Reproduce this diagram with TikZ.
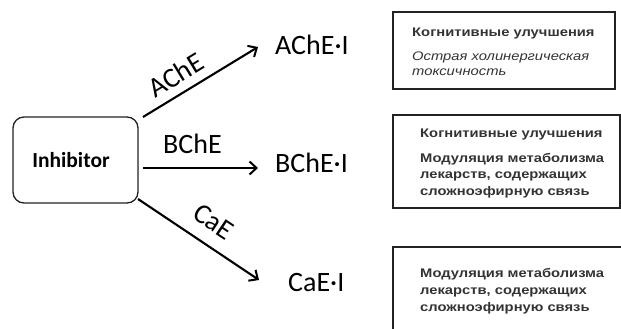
\documentclass[tikz,border=0pt]{standalone}
\usepackage{fontspec}
\setmainfont{Carlito}
\newfontfamily\arialf{Liberation Sans}
\usetikzlibrary{arrows.meta}
\definecolor{txtgray}{HTML}{333333}
\definecolor{boxline}{HTML}{222222}
\tikzset{
  arr/.style={line width=2.1pt, -{Straight Barb[length=7pt,width=13pt,line width=2pt]}},
  enz/.style={font=\fontsize{28}{32}\selectfont, inner sep=0pt},
  infobox/.style={draw=boxline, line width=1.5pt},
  infotxt/.style={font=\arialf\bfseries\fontsize{12.5}{14}\selectfont, text=txtgray, anchor=base west, inner sep=0pt, xscale=1.18},
  infoit/.style={font=\arialf\itshape\fontsize{12.5}{14}\selectfont, text=txtgray, anchor=base west, inner sep=0pt, xscale=1.18}
}
\begin{document}
\begin{tikzpicture}[x=1pt,y=-1pt]
\useasboundingbox (0,0) rectangle (621,329);
\clip (0,0) rectangle (621,329);
% inhibitor box
\node[draw=boxline, line width=1.3pt, rounded corners=11pt, minimum width=125pt, minimum height=86pt, inner sep=0pt] (inh) at (75.5,160) {};
\node[font=\bfseries\fontsize{21.5}{24}\selectfont, inner sep=0pt] (inhtxt) at (71,160) {Inhibitor};
\coordinate (s1) at (143,117);
\coordinate (s2) at (143,168);
\coordinate (s3) at (138,199);
\coordinate (e1) at (258,47);
\coordinate (e2) at (258,168);
\coordinate (e3) at (259,280);
\draw[arr] (s1) -- node[enz, pos=0.37, sloped, anchor=south, yshift=8pt] (l1) {AChE} (e1);
\draw[arr] (s2) -- node[enz, pos=0.43, anchor=south, yshift=13pt] (l2) {BChE} (e2);
\draw[arr] (s3) -- node[enz, pos=0.52, sloped, anchor=south, yshift=13pt] (l3) {CaE} (e3);
\node[enz, anchor=base west] (p1) at (275,55) {AChE·I};
\node[enz, anchor=base west] (p2) at (275,172) {BChE·I};
\node[enz, anchor=base west] (p3) at (288,291) {CaE·I};
% info boxes
\draw[infobox] (393,12) rectangle (615,89);
\draw[infobox] (393,115) rectangle (620,208);
\draw[infobox] (393,247) rectangle (640,345);
\node[infotxt] (t11) at (412,37) {Когнитивные улучшения};
\node[infoit] (t12) at (412,61) {Острая холинергическая};
\node[infoit] (t13) at (412,76) {токсичность};
\node[infotxt] (t21) at (420,137) {Когнитивные улучшения};
\node[infotxt] (t22) at (420,162) {Модуляция метаболизма};
\node[infotxt] (t23) at (420,178) {лекарств, содержащих};
\node[infotxt] (t24) at (420,195) {сложноэфирную связь};
\node[infotxt] (t31) at (420,277) {Модуляция метаболизма};
\node[infotxt] (t32) at (420,294) {лекарств, содержащих};
\node[infotxt] (t33) at (420,311) {сложноэфирную связь};
\end{tikzpicture}
\end{document}
